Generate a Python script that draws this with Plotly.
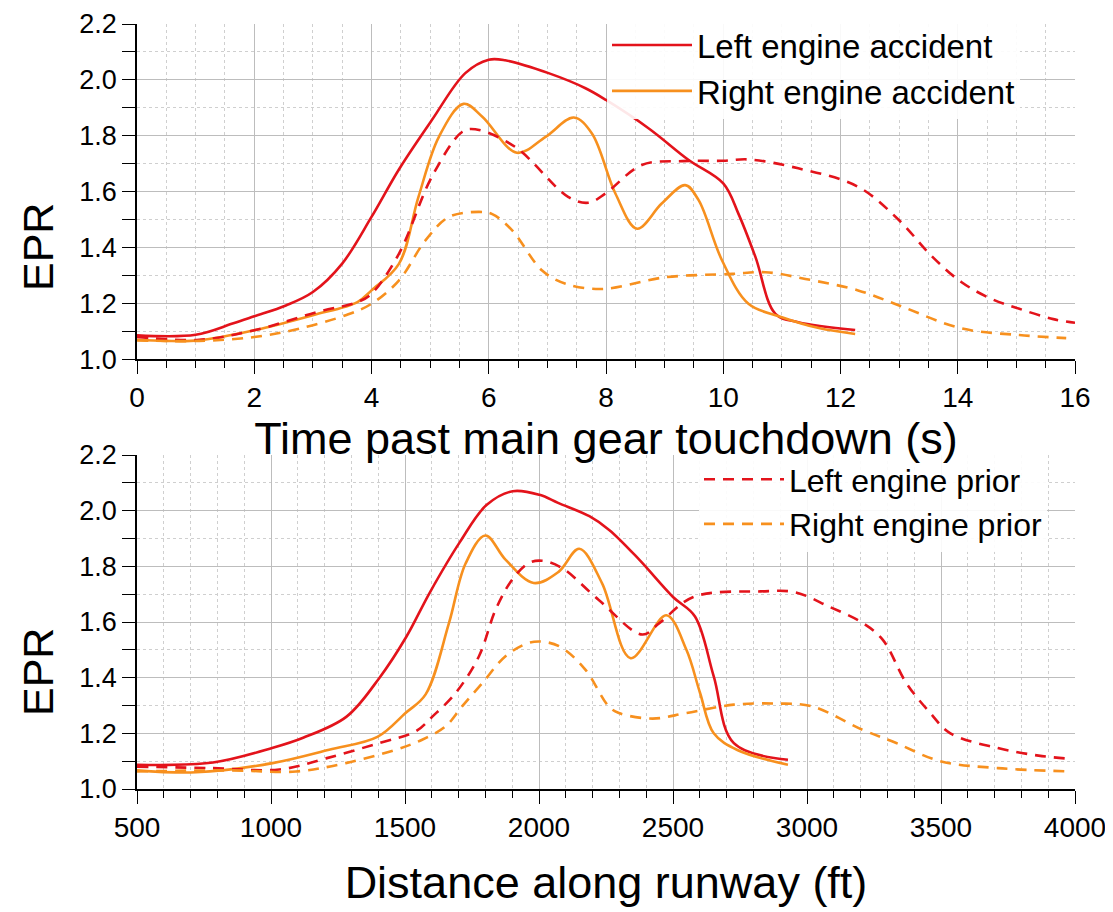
import plotly.graph_objects as go
from plotly.subplots import make_subplots

# ---------------- data: top panel (time, s) ----------------
t_left_acc = [0, 1.0, 1.63, 2.0, 2.54, 3.0, 3.5, 4.0, 4.47, 5.03, 5.6, 6.0, 6.28, 7.02, 7.65,
              8.0, 8.73, 9.41, 10.0, 10.26, 10.55, 10.89, 11.28, 12.25]
epr_t_left_acc = [1.085, 1.087, 1.127, 1.153, 1.192, 1.24, 1.342, 1.509, 1.68, 1.856, 2.024, 2.072,
                  2.07, 2.024, 1.97, 1.928, 1.826, 1.713, 1.629, 1.52, 1.365, 1.162, 1.132, 1.104]

t_right_acc = [0, 0.49, 1.06, 2.0, 3.0, 3.76, 4.0, 4.47, 4.8, 5.15, 5.57, 5.89, 6.48, 6.97, 7.45,
               7.76, 8.16, 8.53, 8.95, 9.35, 9.58, 9.98, 10.43, 11.0, 11.63, 12.25]
epr_t_right_acc = [1.069, 1.065, 1.067, 1.103, 1.157, 1.204, 1.246, 1.342, 1.58, 1.796, 1.914, 1.868,
                   1.739, 1.796, 1.865, 1.808, 1.593, 1.467, 1.557, 1.623, 1.569, 1.353, 1.198, 1.15,
                   1.111, 1.09]

t_left_prior = [0, 1.06, 2.0, 3.1, 3.76, 4.0, 4.47, 5.03, 5.55, 5.77, 6.45, 7.36, 7.7, 7.99, 8.61,
                9.3, 10.0, 10.43, 11.28, 12.3, 13.0, 13.55, 14.06, 14.58, 15.05, 15.63, 16.0]
epr_t_left_prior = [1.079, 1.069, 1.103, 1.17, 1.204, 1.234, 1.378, 1.653, 1.814, 1.823, 1.76, 1.58,
                    1.56, 1.593, 1.695, 1.709, 1.71, 1.715, 1.683, 1.617, 1.497, 1.37, 1.276, 1.215,
                    1.18, 1.143, 1.13]

t_right_prior = [0, 1.06, 2.0, 2.77, 3.56, 4.0, 4.47, 4.92, 5.32, 5.83, 6.06, 6.4, 6.91, 7.31, 7.93,
                 9.01, 10.15, 10.72, 11.4, 12.3, 13.0, 14.06, 15.05, 15.85]
epr_t_right_prior = [1.067, 1.065, 1.079, 1.109, 1.157, 1.198, 1.282, 1.425, 1.509, 1.527, 1.519,
                     1.461, 1.317, 1.27, 1.251, 1.293, 1.305, 1.311, 1.287, 1.246, 1.192, 1.11,
                     1.086, 1.075]

# ---------------- data: bottom panel (distance, ft) ----------------
d_left_acc = [500, 783, 1007, 1120, 1282, 1405, 1505, 1592, 1704, 1804, 1902, 2002, 2071, 2188,
              2263, 2374, 2500, 2582, 2652, 2727, 2929]
epr_d_left_acc = [1.087, 1.095, 1.148, 1.184, 1.26, 1.40, 1.547, 1.705, 1.886, 2.02, 2.07, 2.057,
                  2.028, 1.98, 1.93, 1.824, 1.69, 1.62, 1.405, 1.165, 1.105]

d_right_acc = [500, 721, 1006, 1217, 1397, 1502, 1577, 1664, 1726, 1800, 1875, 1980, 2073, 2150,
               2235, 2342, 2475, 2550, 2601, 2652, 2740, 2929]
epr_d_right_acc = [1.067, 1.06, 1.093, 1.141, 1.187, 1.273, 1.34, 1.596, 1.81, 1.911, 1.824, 1.74,
                   1.78, 1.863, 1.74, 1.47, 1.624, 1.50, 1.345, 1.20, 1.14, 1.087]

d_left_prior = [500, 783, 1031, 1205, 1403, 1540, 1602, 1689, 1776, 1838, 1900, 1962, 2012, 2086,
                2222, 2386, 2449, 2576, 2828, 2955, 3081, 3207, 3283, 3371, 3460, 3535, 3712,
                3864, 3990]
epr_d_left_prior = [1.08, 1.075, 1.07, 1.11, 1.165, 1.207, 1.26, 1.345, 1.477, 1.644, 1.752, 1.812,
                    1.82, 1.794, 1.68, 1.555, 1.596, 1.69, 1.71, 1.707, 1.656, 1.597, 1.536, 1.38,
                    1.273, 1.20, 1.147, 1.12, 1.108]

d_right_prior = [500, 845, 1093, 1279, 1465, 1564, 1651, 1713, 1788, 1875, 1962, 2024, 2086, 2172,
                 2260, 2298, 2424, 2550, 2727, 2891, 3018, 3207, 3333, 3497, 3712, 3990]
epr_d_right_prior = [1.063, 1.067, 1.063, 1.093, 1.141, 1.177, 1.225, 1.297, 1.38, 1.477, 1.525,
                     1.528, 1.507, 1.43, 1.297, 1.273, 1.253, 1.273, 1.303, 1.307, 1.297, 1.213,
                     1.165, 1.10, 1.075, 1.063]

series_names = ["Left engine accident", "Right engine accident",
                "Left engine prior", "Right engine prior"]

RED = "#e3131b"
ORANGE = "#f7901e"
FONT = "Liberation Sans, Arial, sans-serif"
DASH = "11px,8px"
LW = 2.6
SMOOTH = 1.0

fig = make_subplots(rows=2, cols=1, vertical_spacing=0.0)

top = [(t_left_acc, epr_t_left_acc, RED, "solid"),
       (t_right_acc, epr_t_right_acc, ORANGE, "solid"),
       (t_left_prior, epr_t_left_prior, RED, DASH),
       (t_right_prior, epr_t_right_prior, ORANGE, DASH)]
bot = [(d_left_acc, epr_d_left_acc, RED, "solid"),
       (d_right_acc, epr_d_right_acc, ORANGE, "solid"),
       (d_left_prior, epr_d_left_prior, RED, DASH),
       (d_right_prior, epr_d_right_prior, ORANGE, DASH)]

for i, (x, y, c, dash) in enumerate(top):
    fig.add_trace(go.Scatter(x=x, y=y, mode="lines", name=series_names[i],
                             line=dict(color=c, width=LW, dash=dash, shape="spline", smoothing=SMOOTH),
                             showlegend=(i < 2), legend="legend"), row=1, col=1)
for i, (x, y, c, dash) in enumerate(bot):
    fig.add_trace(go.Scatter(x=x, y=y, mode="lines", name=series_names[i],
                             line=dict(color=c, width=LW, dash=dash, shape="spline", smoothing=SMOOTH),
                             showlegend=(i >= 2), legend="legend2"), row=2, col=1)

grid_major = "#bdbdbd"
grid_minor = "#cfcfcf"

common_axis = dict(showline=True, linecolor="black", linewidth=1.5, ticks="outside",
                   ticklen=13, tickwidth=1.3, tickcolor="black", showgrid=True,
                   gridcolor=grid_major, gridwidth=1, zeroline=False, automargin=False)

fig.update_xaxes(**common_axis, tickfont=dict(family=FONT, size=28, color="black"))
fig.update_yaxes(**common_axis, tickfont=dict(family=FONT, size=27, color="black"))

fig.update_xaxes(range=[0, 16], dtick=2, tick0=0,
                 minor=dict(dtick=0.5, ticklen=7, tickcolor="black", showgrid=True,
                            gridcolor=grid_minor, griddash="dot", gridwidth=1),
                 title=dict(text="Time past main gear touchdown (s)",
                            font=dict(family=FONT, size=45, color="black"), standoff=0),
                 row=1, col=1)
fig.update_xaxes(range=[500, 4000], dtick=500, tick0=500,
                 minor=dict(dtick=100, ticklen=7, tickcolor="black", showgrid=True,
                            gridcolor=grid_minor, griddash="dot", gridwidth=1),
                 title=dict(text="Distance along runway (ft)",
                            font=dict(family=FONT, size=45, color="black"), standoff=24),
                 row=2, col=1)
fig.update_yaxes(range=[1.0, 2.2], dtick=0.2, tick0=1.0, tickformat=".1f",
                 minor=dict(dtick=0.1, ticklen=13, tickcolor="black", showgrid=True,
                            gridcolor=grid_minor, griddash="dot", gridwidth=1))

# page is drawn with an 8px body offset: figure size and margins compensate for it
FIG_W, FIG_H = 1105, 904
M_L, M_R, M_T, M_B = 129, 38, 16, 123
W_plot = FIG_W - M_L - M_R
H_plot = FIG_H - M_T - M_B

def px_to_paper(px, py):
    # px, py in screenshot pixels
    return (px - 8 - M_L) / W_plot, 1 - (py - 8 - M_T) / H_plot

ax1 = px_to_paper(38, 247)
ax2 = px_to_paper(38, 672)
lg1 = px_to_paper(607, 17)
lg2 = px_to_paper(699, 452)

fig.update_layout(
    width=FIG_W, height=FIG_H,
    margin=dict(l=M_L, r=M_R, t=M_T, b=M_B, autoexpand=False),
    paper_bgcolor="white", plot_bgcolor="white",
    font=dict(family=FONT, color="black"),
    xaxis=dict(domain=[0, 1]), yaxis=dict(domain=[0.562, 1.0]),
    xaxis2=dict(domain=[0, 1]), yaxis2=dict(domain=[0.0, 0.4366]),
    legend=dict(x=lg1[0], y=lg1[1], xanchor="left", yanchor="top", bgcolor="rgba(255,255,255,0.9)",
                font=dict(family=FONT, size=33, color="black"), itemwidth=80,
                tracegroupgap=0, borderwidth=0),
    legend2=dict(x=lg2[0], y=lg2[1], xanchor="left", yanchor="top", bgcolor="rgba(255,255,255,0.9)",
                 font=dict(family=FONT, size=32, color="black"), itemwidth=80,
                 tracegroupgap=0, borderwidth=0),
    annotations=[
        dict(text="EPR", x=ax1[0], xref="paper", y=ax1[1], yref="paper", showarrow=False,
             xanchor="center", yanchor="middle",
             textangle=-90, font=dict(family=FONT, size=43, color="black")),
        dict(text="EPR", x=ax2[0], xref="paper", y=ax2[1], yref="paper", showarrow=False,
             xanchor="center", yanchor="middle",
             textangle=-90, font=dict(family=FONT, size=43, color="black")),
    ],
)

fig.write_html("out.html")
